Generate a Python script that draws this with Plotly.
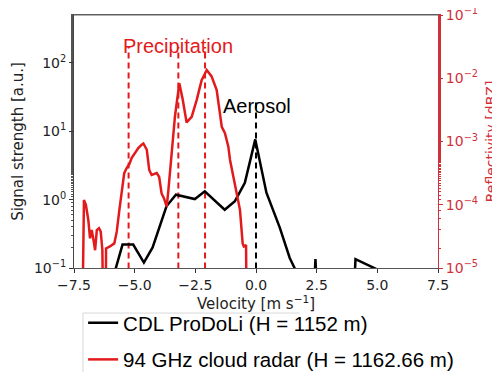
import plotly.graph_objects as go

# ---- data ----
lidar_velocity = [-5.9, -5.5, -5.06, -4.62, -4.26, -3.69, -3.3, -2.52, -2.11, -1.29, -0.87, -0.46,
                  -0.03, 0.43, 0.98, 1.39, 1.8, 2.05, 2.45, 2.85, 3.7, 4.1, 5.0]
lidar_signal = [0.07, 0.22, 0.22, 0.12, 0.2, 0.8, 1.18, 1.02, 1.32, 0.71, 0.95, 1.76,
                7.6, 1.26, 0.39, 0.14, 0.07, 1e-4, 0.135, 1e-4, 1e-4, 0.135, 0.095]

radar_velocity = [-7.16, -7.09, -7.01, -6.91, -6.84, -6.77, -6.70, -6.63, -6.56, -6.47, -6.40, -6.33,
                  -6.29, -6.19, -6.18, -6.02, -5.84, -5.74, -5.63, -5.51, -5.43, -5.33, -5.22, -5.12,
                  -4.99, -4.85, -4.71, -4.64, -4.50, -4.40, -4.30, -4.09, -3.99, -3.89, -3.79, -3.68,
                  -3.61, -3.54, -3.47, -3.34, -3.16, -3.02, -2.86, -2.65, -2.44, -2.24, -2.03, -1.83,
                  -1.62, -1.41, -1.28, -1.14, -1.07, -0.87, -0.66, -0.55, -0.50, -0.41, -0.38]
radar_reflectivity = [1e-6, 1.19e-4, 1.0e-4, 5.75e-5, 2.95e-5, 3.98e-5, 2.82e-5, 1.91e-5, 3.98e-5, 4.27e-5,
                      3.8e-5, 1.91e-5, 1e-6, 1e-6, 2.04e-5, 2.19e-5, 2.45e-5, 3.72e-5, 8.3e-5, 1.7e-4,
                      3.16e-4, 3.8e-4, 4.37e-4, 5.5e-4, 6.46e-4, 7.9e-4, 8.9e-4, 9.3e-4, 7.4e-4, 3.55e-4,
                      2.95e-4, 3.16e-4, 2.75e-4, 1.51e-4, 1.26e-4, 9.3e-5, 1.7e-4, 3.55e-4, 7.4e-4, 2.5e-3,
                      8.3e-3, 4.6e-3, 2.0e-3, 2.45e-3, 4.6e-3, 9.3e-3, 1.35e-2, 1.07e-2, 6.5e-3, 1.7e-3,
                      1.35e-3, 8.3e-4, 5.1e-4, 2.2e-4, 8.3e-5, 2.45e-5, 2.19e-5, 2.3e-5, 1e-6]

precip_peaks = [-5.25, -3.2, -2.1]
precip_line_top = 170
aerosol_peak = [0.0]
aerosol_line_top = 30

x_ticks = [-7.5, -5.0, -2.5, 0.0, 2.5, 5.0, 7.5]
x_ticktext = ["−7.5", "−5.0", "−2.5", "0.0", "2.5", "5.0", "7.5"]
left_ticks = [0.1, 1, 10, 100]
left_ticktext = ["10<sup>−1</sup>", "10<sup>0</sup>", "10<sup>1</sup>", "10<sup>2</sup>"]
right_ticks = [1e-5, 1e-4, 1e-3, 1e-2, 1e-1]
right_ticktext = ["10<sup>−5</sup>", "10<sup>−4</sup>", "10<sup>−3</sup>", "10<sup>−2</sup>", "10<sup>−1</sup>"]

RED = "#e31a1c"
AXRED = "#d0303a"
TICKFONT = "DejaVu Sans"
TEXTFONT = "Liberation Sans, Arial"

fig = go.Figure()

for v in precip_peaks:
    fig.add_trace(go.Scatter(x=[v, v], y=[0.05, precip_line_top], mode="lines",
                             line=dict(color=RED, width=2, dash="6px,4px"),
                             showlegend=False, hoverinfo="skip"))
for v in aerosol_peak:
    fig.add_trace(go.Scatter(x=[v, v], y=[0.05, aerosol_line_top], mode="lines",
                             line=dict(color="black", width=2, dash="6px,4px"),
                             showlegend=False, hoverinfo="skip"))

fig.add_trace(go.Scatter(x=lidar_velocity, y=lidar_signal, mode="lines",
                         line=dict(color="black", width=2.5),
                         name="CDL ProDoLi (H = 1152 m)", legendgroup="a"))
fig.add_trace(go.Scatter(x=radar_velocity, y=radar_reflectivity, mode="lines",
                         line=dict(color=RED, width=2.5), yaxis="y2",
                         name="94 GHz cloud radar (H = 1162.66 m)", legendgroup="b"))

fig.add_annotation(x=-3.22, y=0.929, xref="x", yref="paper", text="Precipitation",
                   showarrow=False, font=dict(family=TEXTFONT, size=20, color=RED))
fig.add_annotation(x=0.04, y=0.692, xref="x", yref="paper", text="Aerosol",
                   showarrow=False, font=dict(family=TEXTFONT, size=20, color="black"))
# right-axis title
fig.add_annotation(x=1.145, y=0.5, xref="paper", yref="paper", text="Reflectivity [dBZ]",
                   textangle=-90, showarrow=False, xanchor="center", yanchor="middle",
                   font=dict(family=TICKFONT, size=14, color=AXRED))

# top frame edge
fig.add_shape(type="line", xref="paper", yref="paper", x0=0, x1=1, y0=1, y1=1,
              line=dict(color="#666666", width=1))
# legend frame edges (the frame runs past the bottom of the picture as in the reference)
fig.add_shape(type="line", xref="paper", yref="paper", x0=0.0247, x1=0.62, y0=-0.178, y1=-0.178,
              line=dict(color="#d8d8d8", width=1), layer="below")
fig.add_shape(type="line", xref="paper", yref="paper", x0=0.0247, x1=0.0247, y0=-0.178, y1=-0.55,
              line=dict(color="#d8d8d8", width=1), layer="below")

# the page body has an 8px margin, so the figure is sized to fit the remaining window
fig.update_layout(
    width=492, height=364,
    margin=dict(l=66, r=62, t=7, b=104, autoexpand=False),
    paper_bgcolor="white", plot_bgcolor="white",
    xaxis=dict(range=[-7.5, 7.5], tickvals=x_ticks, ticktext=x_ticktext,
               ticks="outside", ticklen=4, tickcolor="#333", showgrid=False, zeroline=False,
               showline=True, linecolor="#555", linewidth=1, mirror=True,
               tickfont=dict(family=TICKFONT, size=14, color="#222"),
               title=dict(text="Velocity [m s<sup>−1</sup>]", standoff=0,
                          font=dict(family=TICKFONT, size=15, color="#222"))),
    yaxis=dict(type="log", range=[-1, 2.7], tickvals=left_ticks, ticktext=left_ticktext,
               ticks="outside", ticklen=4, tickcolor="#333", showgrid=False, zeroline=False,
               showline=True, linecolor="#444", linewidth=1, ticklabeloverflow="allow",
               minor=dict(ticks="outside", ticklen=2, tickcolor="#555", showgrid=False),
               tickfont=dict(family=TICKFONT, size=14, color="#222"),
               title=dict(text="Signal strength [a.u.]", standoff=6,
                          font=dict(family=TICKFONT, size=15, color="#222"))),
    yaxis2=dict(type="log", range=[-5, -1], overlaying="y", side="right",
                tickvals=right_ticks, ticktext=right_ticktext, ticklabeloverflow="allow",
                ticks="outside", ticklen=4, tickcolor=AXRED, showgrid=False, zeroline=False,
                showline=True, linecolor=AXRED, linewidth=1,
                minor=dict(ticks="outside", ticklen=2, tickcolor=AXRED, showgrid=False),
                tickfont=dict(family=TICKFONT, size=14, color=AXRED)),
    legend=dict(x=0.025, y=-0.138, xanchor="left", yanchor="top",
                bgcolor="rgba(0,0,0,0)", borderwidth=0,
                font=dict(family=TEXTFONT, size=20.5, color="black"),
                tracegroupgap=7, itemwidth=30),
    showlegend=True,
)

fig.write_html("out.html")
